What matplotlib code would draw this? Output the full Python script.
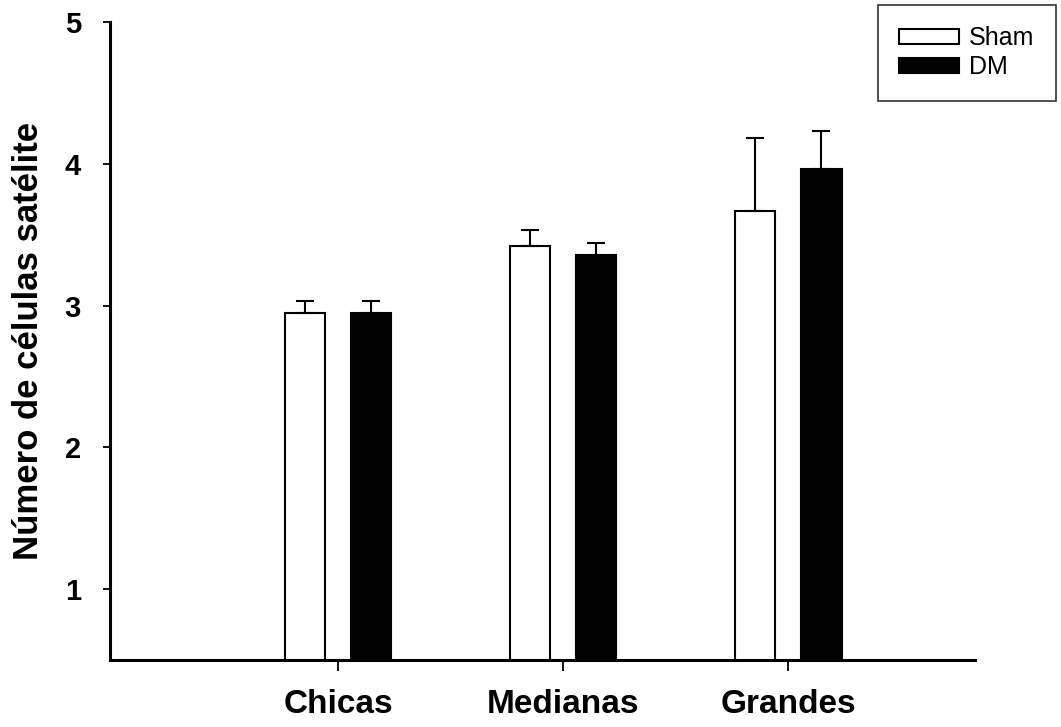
import numpy as np
import matplotlib
matplotlib.use("Agg")
import matplotlib.pyplot as plt

categories = ["Chicas", "Medianas", "Grandes"]
sham_mean = [2.95, 3.42, 3.67]
sham_err = [0.08, 0.11, 0.51]
dm_mean = [2.95, 3.36, 3.96]
dm_err = [0.08, 0.08, 0.27]

plt.rcParams['font.family'] = ['Liberation Sans', 'DejaVu Sans']

fig = plt.figure(figsize=(10.61, 7.27), dpi=100)
ax = fig.add_axes([0.1037, 0.0922, 0.8153, 0.8775])

x = np.arange(len(categories))
width = 0.18
off = 0.147

ax.bar(x - off, sham_mean, width, bottom=0, color='white', edgecolor='black',
       linewidth=1.5, label='Sham', zorder=2)
ax.bar(x + off, dm_mean, width, bottom=0, color='black', edgecolor='black',
       linewidth=1.5, label='DM', zorder=2)
ax.errorbar(x - off, sham_mean, yerr=[np.zeros(3), sham_err], fmt='none',
            ecolor='black', elinewidth=1.5, capsize=6.5, capthick=1.5, zorder=3)
ax.errorbar(x + off, dm_mean, yerr=[np.zeros(3), dm_err], fmt='none',
            ecolor='black', elinewidth=1.5, capsize=6.5, capthick=1.5, zorder=3)

ax.set_ylim(0.5, 5)
ax.set_xlim(-1.013, 2.83)
ax.set_yticks([1, 2, 3, 4, 5])
ax.set_xticks(x)
ax.set_xticklabels(categories, fontsize=24, fontweight='bold')
for lbl in ax.get_yticklabels():
    lbl.set_fontsize(21)
    lbl.set_fontweight('bold')

ax.spines['top'].set_visible(False)
ax.spines['right'].set_visible(False)
ax.spines['left'].set_linewidth(2.2)
ax.spines['bottom'].set_linewidth(2.2)
ax.tick_params(axis='y', direction='out', length=5, width=1.3, pad=16)
ax.tick_params(axis='x', direction='out', length=8, width=1.3, pad=13)

ax.set_ylabel('Número de células satélite', fontsize=25, fontweight='bold', labelpad=14)

leg = ax.legend(loc='upper left', bbox_to_anchor=(878 / 1061, 1 - 5 / 727),
                bbox_transform=fig.transFigure, fontsize=18, frameon=True,
                fancybox=False, handlelength=2.4, handleheight=0.6,
                borderpad=0.85, labelspacing=0.2, handletextpad=0.4,
                borderaxespad=0)
leg.get_frame().set_edgecolor('black')
leg.get_frame().set_linewidth(1.2)

fig.savefig('out.png', dpi=100)
